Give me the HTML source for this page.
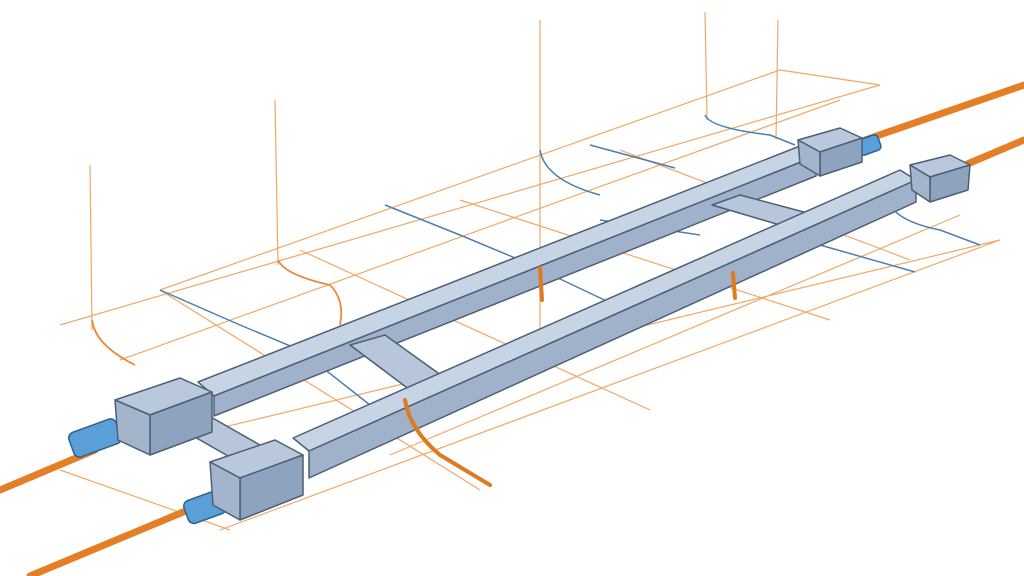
<!DOCTYPE html>
<html><head><style>html,body{margin:0;padding:0;background:#fff}svg{display:block}</style></head>
<body>
<svg width="1024" height="576" viewBox="0 0 1024 576" xmlns="http://www.w3.org/2000/svg">
<rect width="1024" height="576" fill="#fff"/>
<g stroke="#ef9a4c" stroke-width="1.2" fill="none" opacity="0.85">
<line x1="60" y1="325" x2="880" y2="85"/>
<line x1="160" y1="290" x2="780" y2="70"/>
<line x1="120" y1="360" x2="840" y2="100"/>
<line x1="150" y1="445" x2="1000" y2="240"/>
<line x1="220" y1="530" x2="1000" y2="240"/>
<line x1="390" y1="455" x2="960" y2="215"/>
<line x1="160" y1="290" x2="480" y2="490"/>
<line x1="300" y1="250" x2="650" y2="410"/>
<line x1="460" y1="200" x2="830" y2="320"/>
<line x1="620" y1="150" x2="910" y2="260"/>
<line x1="780" y1="70" x2="880" y2="85"/>
<line x1="60" y1="470" x2="230" y2="530"/>
<line x1="90" y1="165" x2="92" y2="330"/>
<line x1="275" y1="100" x2="278" y2="265"/>
<line x1="540" y1="20" x2="540" y2="345"/>
<line x1="705" y1="12" x2="707" y2="120"/>
<line x1="778" y1="20" x2="776" y2="140"/>
</g>
<g stroke="#e88a3a" stroke-width="1.8" fill="none">
<path d="M92 320 Q95 345 135 365"/>
<path d="M278 260 Q285 275 330 285 Q345 300 340 325"/>
</g>
<g stroke="#4a7fb0" stroke-width="1.5" fill="none">
<path d="M160 290 L240 325 L300 350 L370 405"/>
<path d="M385 205 L460 235 L520 260 L615 305"/>
<path d="M540 150 Q545 180 600 195"/>
<path d="M590 145 L675 168"/>
<path d="M705 115 Q710 128 770 135 L795 145"/>
<path d="M600 220 L700 235"/>
<path d="M820 245 L915 272"/>
<path d="M890 205 Q900 222 940 230 L980 245"/>
</g>
<g stroke="#e57f25" stroke-width="7" stroke-linecap="round">
<line x1="0" y1="490" x2="95" y2="450"/>
<line x1="30" y1="576" x2="200" y2="505"/>
<line x1="865" y1="140" x2="1024" y2="85"/>
<line x1="965" y1="165" x2="1024" y2="140"/>
</g>
<g fill="#5b9fd8" stroke="#2f5f8f" stroke-width="1.5">
<rect x="70" y="425" width="50" height="26" rx="6" transform="rotate(-20 95 438)"/>
<rect x="185" y="495" width="40" height="24" rx="6" transform="rotate(-20 205 507)"/>
<rect x="858" y="137" width="22" height="16" rx="4" transform="rotate(-20 869 145)"/>
</g>
<g stroke="#4d5f78" stroke-width="1.5" stroke-linejoin="round">
<polygon points="198,382 800,146 816,156 214,396" fill="#c6d4e3"/>
<polygon points="214,396 816,156 816,176 214,416" fill="#9fb2c9"/>
<polygon points="350,345 385,335 445,378 410,390" fill="#b7c6d8"/>
<polygon points="410,390 445,378 445,388 410,400" fill="#8da1ba"/>
<polygon points="712,205 740,195 815,215 790,228" fill="#b7c6d8"/>
<polygon points="790,228 815,215 815,225 790,238" fill="#8da1ba"/>
<polygon points="165,420 195,408 260,445 235,460" fill="#b7c6d8"/>
<polygon points="293,438 900,170 916,180 309,451" fill="#c6d4e3"/>
<polygon points="309,451 916,180 916,202 309,478" fill="#9fb2c9"/>
<polygon points="115,400 180,378 212,392 150,415" fill="#b9c8da"/>
<polygon points="150,415 212,392 212,432 150,455" fill="#8ea3bd"/>
<polygon points="115,400 150,415 150,455 118,440" fill="#a3b5ca"/>
<polygon points="210,462 275,440 303,455 240,478" fill="#b9c8da"/>
<polygon points="240,478 303,455 303,495 240,520" fill="#8ea3bd"/>
<polygon points="210,462 240,478 240,520 213,505" fill="#a3b5ca"/>
<polygon points="798,140 840,128 862,138 820,152" fill="#b9c8da"/>
<polygon points="820,152 862,138 862,162 820,176" fill="#8ea3bd"/>
<polygon points="798,140 820,152 820,176 800,164" fill="#a3b5ca"/>
<polygon points="910,165 950,155 970,165 930,177" fill="#b9c8da"/>
<polygon points="930,177 970,165 968,190 930,202" fill="#8ea3bd"/>
<polygon points="910,165 930,177 930,202 912,190" fill="#a3b5ca"/>
</g>
<g stroke="#e07a20" stroke-width="4" fill="none" stroke-linecap="round">
<path d="M405 400 Q410 430 440 455 L490 485"/>
<path d="M540 268 L542 300"/>
<path d="M733 273 L735 298"/>
</g>
</svg>
</body></html>
